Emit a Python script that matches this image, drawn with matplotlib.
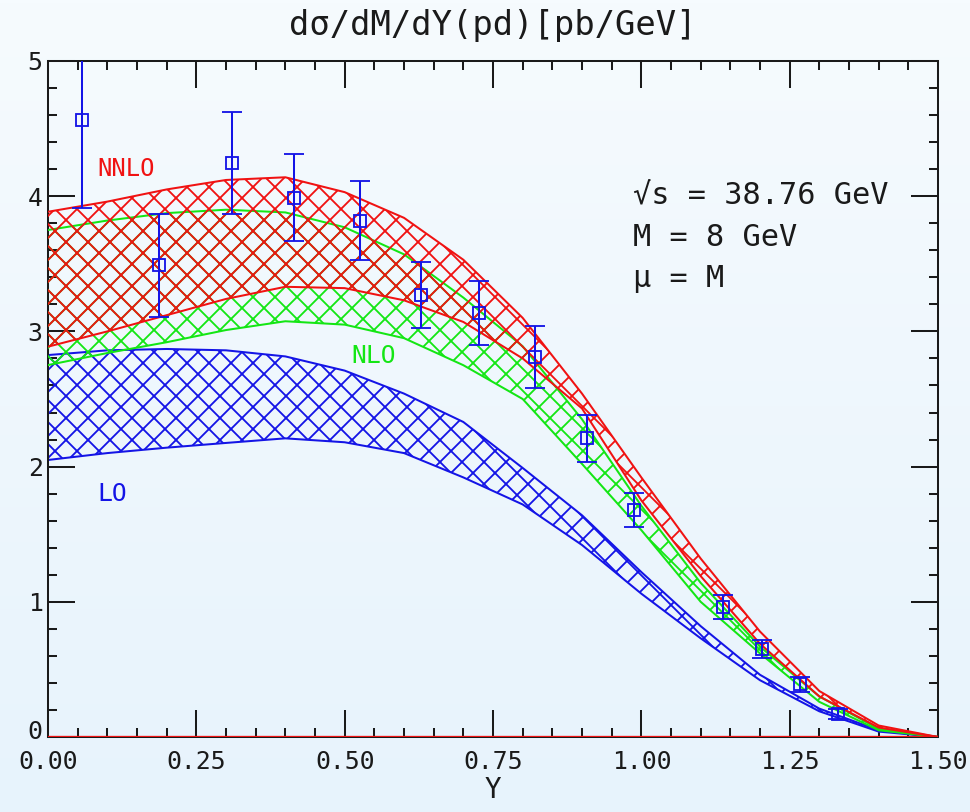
import numpy as np
import matplotlib
matplotlib.use("Agg")
import matplotlib.pyplot as plt
import matplotlib.transforms as mtransforms
from matplotlib.ticker import MultipleLocator, FixedLocator

# ---------------- data ----------------
Y_grid = [0.0, 0.1, 0.2, 0.3, 0.4, 0.5, 0.6, 0.7, 0.8, 0.9, 1.0, 1.1, 1.2, 1.3, 1.4, 1.5]

lo_upper   = [2.825, 2.86, 2.87, 2.86, 2.815, 2.71, 2.54, 2.33, 1.99, 1.64, 1.22, 0.82, 0.46, 0.21, 0.05, 0.0]
lo_lower   = [2.049, 2.10, 2.14, 2.175, 2.209, 2.18, 2.10, 1.92, 1.72, 1.42, 1.06, 0.73, 0.42, 0.19, 0.04, 0.0]
nlo_upper  = [3.75, 3.82, 3.875, 3.90, 3.88, 3.77, 3.57, 3.25, 2.89, 2.35, 1.71, 1.14, 0.668, 0.30, 0.06, 0.0]
nlo_lower  = [2.751, 2.84, 2.92, 3.01, 3.075, 3.05, 2.95, 2.75, 2.50, 2.02, 1.53, 1.00, 0.618, 0.26, 0.05, 0.0]
nnlo_upper = [3.885, 3.96, 4.05, 4.12, 4.14, 4.03, 3.84, 3.53, 3.10, 2.54, 1.92, 1.32, 0.78, 0.34, 0.085, 0.0]
nnlo_lower = [2.887, 3.00, 3.12, 3.24, 3.33, 3.32, 3.23, 3.07, 2.80, 2.43, 1.75, 1.19, 0.69, 0.30, 0.07, 0.0]

data_Y   = [0.057, 0.187, 0.310, 0.415, 0.526, 0.629, 0.726, 0.821, 0.908, 0.988, 1.138, 1.203, 1.267, 1.331]
data_val = [4.56, 3.49, 4.245, 3.99, 3.82, 3.27, 3.136, 2.81, 2.21, 1.68, 0.96, 0.65, 0.39, 0.17]
data_err = [0.65, 0.38, 0.38, 0.32, 0.29, 0.245, 0.24, 0.23, 0.175, 0.125, 0.09, 0.065, 0.055, 0.035]

x_ticks = [0.0, 0.25, 0.5, 0.75, 1.0, 1.25, 1.5]
x_tick_labels = ["0.00", "0.25", "0.50", "0.75", "1.00", "1.25", "1.50"]
y_ticks = [0, 1, 2, 3, 4, 5]
y_tick_labels = ["0", "1", "2", "3", "4", "5"]

title = "dσ/dM/dY(pd)[pb/GeV]"
xlabel = "Y"
info_lines = ["√s = 38.76 GeV", "M = 8 GeV", "μ = M"]

# ---------------- style ----------------
DPI = 132
W, H = 970, 812
plt.rcParams['font.family'] = ['DejaVu Sans Mono', 'DejaVu Sans']
plt.rcParams['hatch.linewidth'] = 1.0

RED = '#f01212'
GREEN = '#14e614'
BLUE = '#1414e6'
INK = '#1a1a1a'

fig = plt.figure(figsize=(W / DPI, H / DPI), dpi=DPI)

# background gradient
bg = fig.add_axes([0, 0, 1, 1], zorder=-10)
grad = np.linspace(0, 1, 256)[:, None]
top_c = np.array([246, 251, 254]) / 255.0
bot_c = np.array([231, 243, 252]) / 255.0
img = top_c[None, None, :] * (1 - grad[:, :, None]) + bot_c[None, None, :] * grad[:, :, None]
bg.imshow(img, aspect='auto', extent=[0, 1, 0, 1])
bg.axis('off')

ax = fig.add_axes([48 / W, 1 - 737 / H, (938 - 48) / W, (737 - 61) / H])
ax.patch.set_alpha(0)

x = np.array(Y_grid)
bands = [(lo_lower, lo_upper, BLUE), (nlo_lower, nlo_upper, GREEN), (nnlo_lower, nnlo_upper, RED)]
for i, (lo, hi, c) in enumerate(bands):
    ax.fill_between(x, lo, hi, facecolor='none', edgecolor=c, hatch='xx', linewidth=0, zorder=2 + i)
    ax.plot(x, lo, color=c, lw=1.1, zorder=2.5 + i)
    ax.plot(x, hi, color=c, lw=1.1, zorder=2.5 + i)

ax.axhline(0, color=RED, lw=1.8, zorder=6)

ax.errorbar(data_Y, data_val, yerr=data_err, fmt='s', mfc='none', mec=BLUE, ms=6.3, mew=1.0,
            ecolor=BLUE, elinewidth=1.1, capsize=5.2, capthick=1.1, zorder=7)

ax.set_xlim(0, 1.5)
ax.set_ylim(0, 5)

ax.xaxis.set_major_locator(FixedLocator(x_ticks))
ax.set_xticklabels(x_tick_labels)
ax.yaxis.set_major_locator(FixedLocator(y_ticks))
ax.set_yticklabels(y_tick_labels)
ax.xaxis.set_minor_locator(MultipleLocator(0.05))
ax.yaxis.set_minor_locator(MultipleLocator(0.2))
ax.tick_params(which='both', direction='in', top=True, right=True, colors=INK, width=1.1)
ax.tick_params(which='major', length=14.7, labelsize=13.5)
ax.tick_params(which='minor', length=4.9)
ax.tick_params(axis='x', which='major', pad=7)
ax.tick_params(axis='y', which='major', pad=3)
for s in ax.spines.values():
    s.set_color(INK)
    s.set_linewidth(1.1)

# nudge the y "0" label up a little so it clears the "0.00" label
lbl0 = ax.get_yticklabels()[0]
lbl0.set_transform(lbl0.get_transform() + mtransforms.ScaledTranslation(0, 4 / 72, fig.dpi_scale_trans))

ax.set_xlabel(xlabel, fontsize=15, color=INK, labelpad=1)
fig.text(493 / W, 1 - 26 / H, title, ha='center', va='center', fontsize=18.5, color=INK)

for j, line in enumerate(info_lines):
    ax.text(0.986, 4.0 - j * 0.305, line, ha='left', va='center', fontsize=16.5, color=INK)

ax.text(0.083, 4.2, "NNLO", color=RED, fontsize=13, ha='left', va='center')
ax.text(0.512, 2.82, "NLO", color=GREEN, fontsize=13.5, ha='left', va='center')
ax.text(0.084, 1.80, "LO", color=BLUE, fontsize=13.5, ha='left', va='center')

fig.savefig("out.png", dpi=DPI)
